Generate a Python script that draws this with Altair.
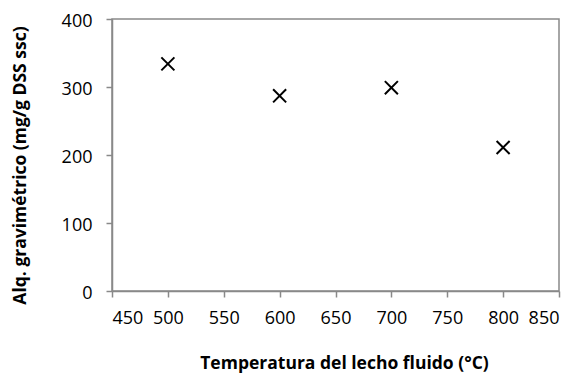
import altair as alt
import pandas as pd

temps = [500, 600, 700, 800]
alq = [334, 287, 299, 211]
x_ticks = [450, 500, 550, 600, 650, 700, 750, 800, 850]
y_ticks = [0, 100, 200, 300, 400]

df = pd.DataFrame({"temp": temps, "alq": alq})

GREY = "#898989"
FONT = "Open Sans"

chart = alt.Chart(df).mark_point(
    shape="M-1,-1L1,1M-1,1L1,-1",
    size=170,
    filled=False,
    stroke="black",
    strokeWidth=2,
    opacity=1,
).encode(
    x=alt.X(
        "temp:Q",
        scale=alt.Scale(domain=[450, 850], nice=False, zero=False),
        axis=alt.Axis(
            values=x_ticks,
            title="Temperatura del lecho fluido (°C)",
            titleX=232,
            titleY=72,
            titleBaseline="middle",
            labelPadding=12,
        ),
    ),
    y=alt.Y(
        "alq:Q",
        scale=alt.Scale(domain=[0, 400], nice=False),
        axis=alt.Axis(
            values=y_ticks,
            title="Alq. gravimétrico (mg/g DSS ssc)",
            titleX=-92,
            titleY=146,
            titleBaseline="middle",
            titleAngle=-90,
            labelPadding=14,
            labelOffset=2,
        ),
    ),
).properties(
    width=447,
    height=272,
    autosize=alt.AutoSizeParams(type="none"),
    padding={"left": 104, "top": 11, "right": 9, "bottom": 90},
).configure_view(
    stroke=GREY,
    strokeWidth=1.5,
).configure_axis(
    grid=False,
    domainColor=GREY,
    domainWidth=1.5,
    tickColor=GREY,
    tickWidth=1.5,
    tickSize=6,
    labelFont=FONT,
    labelFontSize=18,
    labelColor="#000000",
    titleFont=FONT,
    titleFontSize=17.5,
    titleFontWeight="bold",
    titleColor="#000000",
)

chart.save("out.html", embed_options={"renderer": "svg", "actions": False})
